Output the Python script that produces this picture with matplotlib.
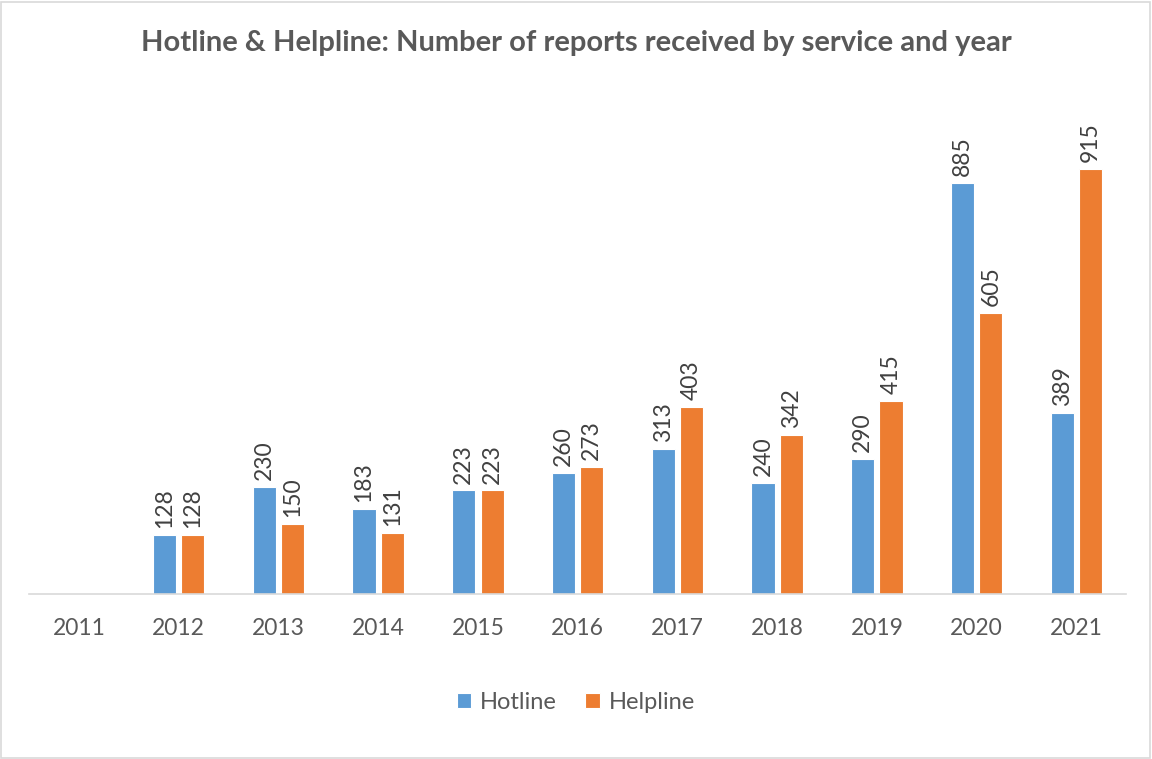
import matplotlib.pyplot as plt
import numpy as np

years = ["2011", "2012", "2013", "2014", "2015", "2016", "2017", "2018", "2019", "2020", "2021"]
hotline = [np.nan, 128, 230, 183, 223, 260, 313, 240, 290, 885, 389]
helpline = [np.nan, 128, 150, 131, 223, 273, 403, 342, 415, 605, 915]

plt.rcParams['font.family'] = ['Lato', 'DejaVu Sans']

blue = '#5B9BD5'
orange = '#ED7D31'
text_gray = '#595959'

fig = plt.figure(figsize=(11.52, 7.59), dpi=100)
# light chart border like the Excel chart area
fig.patches.append(plt.Rectangle((0.001, 0.001), 0.997, 0.997, transform=fig.transFigure,
                                 fill=False, edgecolor='#D9D9D9', linewidth=1.2))

ax = fig.add_axes([0.0253, 0.2174, 0.9523, 0.6117])
x = np.arange(len(years))
w = 0.232
off = 0.142

b1 = ax.bar(x - off, hotline, w, color=blue, edgecolor='white', linewidth=0.8, label='Hotline')
b2 = ax.bar(x + off, helpline, w, color=orange, edgecolor='white', linewidth=0.8, label='Helpline')

for bars, vals in ((b1, hotline), (b2, helpline)):
    for rect, v in zip(bars, vals):
        if np.isnan(v):
            continue
        ax.annotate(f"{int(v)}", (rect.get_x() + rect.get_width() / 2, v),
                    xytext=(0, 5), textcoords='offset points', rotation=90,
                    ha='center', va='bottom', fontsize=16.5, color='#404040')

ax.set_xlim(-0.5, len(years) - 0.5)
ax.set_ylim(0, 1000)
ax.set_xticks(x)
ax.set_xticklabels(years, fontsize=16.5, color=text_gray)
ax.set_yticks([])
ax.tick_params(axis='x', length=0, pad=17)
for s in ['top', 'right', 'left']:
    ax.spines[s].set_visible(False)
ax.spines['bottom'].set_color('#D9D9D9')
ax.spines['bottom'].set_linewidth(1.2)

fig.text(0.5, 0.944, "Hotline & Helpline: Number of reports received by service and year",
         ha='center', va='center', fontsize=21, fontweight='bold', color=text_gray)

leg = fig.legend(handles=[b1, b2], labels=['Hotline', 'Helpline'], loc='center',
                 bbox_to_anchor=(0.5, 0.075), ncol=2, frameon=False, fontsize=17,
                 handlelength=0.6, handleheight=0.6, handletextpad=0.4, columnspacing=1.2)
for t in leg.get_texts():
    t.set_color(text_gray)

fig.savefig("out.png", dpi=100)
